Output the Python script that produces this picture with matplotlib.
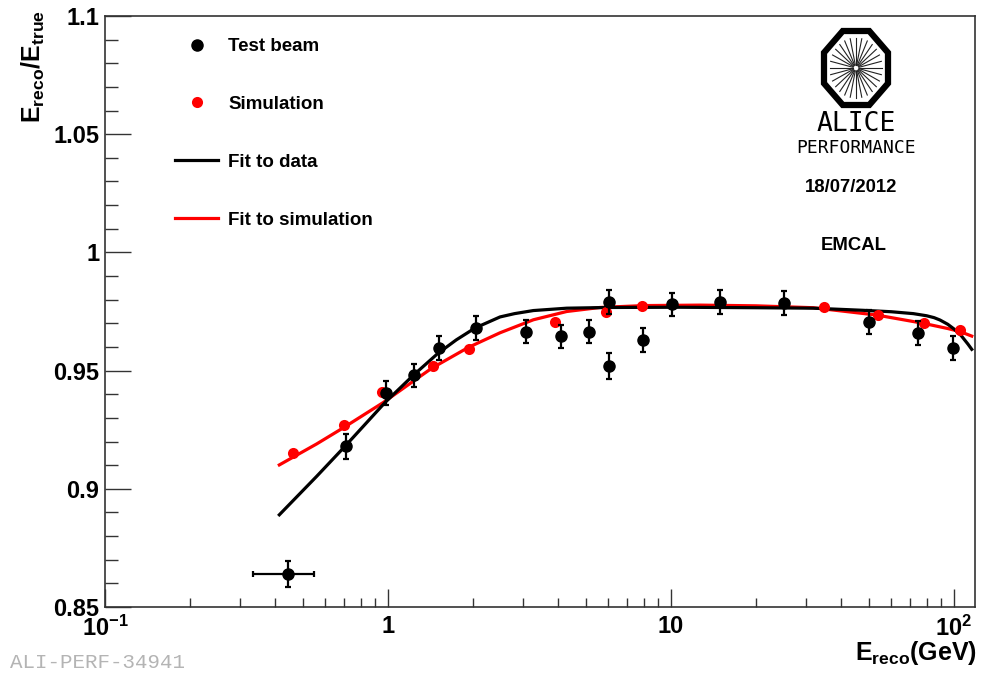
import numpy as np
import matplotlib
matplotlib.use('Agg')
import matplotlib.pyplot as plt
from matplotlib.lines import Line2D
from matplotlib.patches import Polygon
from matplotlib.ticker import FixedLocator, FixedFormatter, MultipleLocator, LogLocator, NullFormatter

# test beam points (E_reco in GeV, ratio, errors)
beam_e = [0.444, 0.711, 0.985, 1.236, 1.51, 2.05, 3.07, 4.09, 5.13, 6.04, 6.04,
          7.96, 10.07, 14.9, 25.1, 50.1, 74.6, 99.2]
beam_r = [0.8640, 0.9180, 0.9405, 0.9480, 0.9595, 0.9680, 0.9665, 0.9645, 0.9665,
          0.9520, 0.9790, 0.9630, 0.9780, 0.9790, 0.9785, 0.9705, 0.9660, 0.9595]
beam_err = [0.0055, 0.0053, 0.005, 0.005, 0.005, 0.005, 0.005, 0.005, 0.005,
            0.0055, 0.005, 0.005, 0.005, 0.005, 0.005, 0.005, 0.005, 0.005]
beam_xlo = [0.110] + [0.0] * 17
beam_xhi = [0.104] + [0.0] * 17

# simulation points
sim_e = [0.461, 0.699, 0.951, 1.44, 1.93, 3.89, 5.89, 7.9, 14.9, 25.1, 34.7, 53.9, 78.3, 105]
sim_r = [0.915, 0.927, 0.941, 0.952, 0.959, 0.9705, 0.975, 0.9775, 0.979, 0.9785,
         0.977, 0.9735, 0.970, 0.967]

# fit curves
datafit_e = [0.413, 0.560, 0.705, 0.976, 1.228, 1.498, 1.743, 2.029, 2.488, 2.8, 3.263, 4.28,
             6.0, 10.76, 20.0, 31.8, 47.8, 60.0, 71.8, 80.0, 85.0, 89.2, 95.0, 100.0, 106.0,
             112.0, 115.5]
datafit_r = [0.8890, 0.9053, 0.9180, 0.9365, 0.9480, 0.9572, 0.9630, 0.9680, 0.9727, 0.9741,
             0.9754, 0.9764, 0.9767, 0.9768, 0.9766, 0.9764, 0.9755, 0.9749, 0.9741, 0.9732,
             0.9724, 0.9714, 0.9696, 0.9676, 0.9648, 0.9612, 0.9590]
simfit_e = [0.413, 0.560, 0.695, 0.962, 1.228, 1.427, 1.922, 2.488, 3.263, 4.28, 5.61,
            8.0, 12.66, 20.0, 31.8, 53.3, 77.9, 95.0, 105.0, 115.5]
simfit_r = [0.9101, 0.9190, 0.9258, 0.9365, 0.9455, 0.9510, 0.9598, 0.9660, 0.9715, 0.9750,
            0.9767, 0.9775, 0.9777, 0.9774, 0.9766, 0.9735, 0.9700, 0.9678, 0.9665, 0.9646]

xtick_vals = [0.1, 1, 10, 100]
xtick_labels = [r'$10^{-1}$', '1', '10', r'$10^{2}$']
ytick_vals = [0.85, 0.9, 0.95, 1.0, 1.05, 1.1]
ytick_labels = ['0.85', '0.9', '0.95', '1', '1.05', '1.1']

legend_labels = ['Test beam', 'Simulation', 'Fit to data', 'Fit to simulation']

plt.rcParams['font.family'] = 'Liberation Sans'
plt.rcParams['font.weight'] = 'bold'
plt.rcParams['mathtext.fontset'] = 'custom'
plt.rcParams['mathtext.rm'] = 'Liberation Sans:bold'
plt.rcParams['mathtext.bf'] = 'Liberation Sans:bold'
plt.rcParams['mathtext.it'] = 'Liberation Sans:bold'
plt.rcParams['mathtext.default'] = 'bf'

W, H = 981, 673
fig = plt.figure(figsize=(W / 100, H / 100), dpi=100)
ax = fig.add_axes([105 / W, 1 - 607 / H, 870 / W, 591 / H])
ax.set_xscale('log')
ax.set_xlim(0.1, 118.6)
ax.set_ylim(0.85, 1.1)

ax.plot(simfit_e, simfit_r, color='#ff0000', lw=2.3, zorder=2)
ax.plot(datafit_e, datafit_r, color='black', lw=2.3, zorder=3)
ax.plot(sim_e, sim_r, 'o', color='#ff0000', ms=8, mec='none', zorder=4)
ax.errorbar(beam_e, beam_r, yerr=beam_err, xerr=[beam_xlo, beam_xhi], fmt='o',
            color='black', ms=8, elinewidth=1.6, capsize=2.5, capthick=1.6, zorder=5)

# axes, ROOT like
ax.xaxis.set_major_locator(FixedLocator(xtick_vals))
ax.xaxis.set_major_formatter(FixedFormatter(xtick_labels))
ax.xaxis.set_minor_locator(LogLocator(base=10, subs=np.arange(2, 10)))
ax.xaxis.set_minor_formatter(NullFormatter())
ax.yaxis.set_major_locator(FixedLocator(ytick_vals))
ax.yaxis.set_major_formatter(FixedFormatter(ytick_labels))
ax.yaxis.set_minor_locator(MultipleLocator(0.01))

ax.tick_params(axis='both', which='both', direction='in', top=False, right=False,
               labelsize=17, width=1.0, color='#333333')
ax.tick_params(axis='x', which='major', length=13, pad=6)
ax.tick_params(axis='x', which='minor', length=6.5)
ax.tick_params(axis='y', which='major', length=18.7, pad=4)
ax.tick_params(axis='y', which='minor', length=9.4)
for s in ax.spines.values():
    s.set_linewidth(1.2)
    s.set_color('#333333')

fig.text(33 / W, 1 - 10 / H, r'$E_{reco}/E_{true}$', rotation=90, ha='center', va='top', fontsize=18)
fig.text(977 / W, 1 - 667 / H, r'$E_{reco}$(GeV)', ha='right', va='bottom', fontsize=18)

handles = [Line2D([], [], ls='none', marker='o', color='black', ms=8),
           Line2D([], [], ls='none', marker='o', color='#ff0000', mec='none', ms=8),
           Line2D([], [], color='black', lw=2.3),
           Line2D([], [], color='#ff0000', lw=2.3)]
ax.legend(handles, legend_labels, loc='upper left',
          bbox_to_anchor=((175 - 105) / 870, (607 - 38) / 591), frameon=False, fontsize=13.5,
          handlelength=2.3, handletextpad=0.53, labelspacing=2.17, borderpad=0, borderaxespad=0)

# ALICE performance logo
cx, cy = 856, 68
ang = np.deg2rad(22.5 + 45 * np.arange(8))
k = 1 / np.cos(np.deg2rad(22.5))
octa = np.column_stack([(cx + 32 * k * np.cos(ang)) / W, 1 - (cy + 37 * k * np.sin(ang)) / H])
fig.patches.append(Polygon(octa, closed=True, fill=False, ec='black', lw=4.5,
                           transform=fig.transFigure, figure=fig))
for a in np.linspace(0, 2 * np.pi, 28, endpoint=False):
    fig.add_artist(Line2D([(cx + 3 * np.cos(a)) / W, (cx + 26 * np.cos(a)) / W],
                          [1 - (cy + 3 * np.sin(a)) / H, 1 - (cy + 30 * np.sin(a)) / H],
                          transform=fig.transFigure, color='#222222', lw=0.8))
fig.text(cx / W, 1 - 124 / H, 'ALICE', ha='center', va='center', fontsize=19,
         family='DejaVu Sans Mono', fontweight='normal')
fig.text(cx / W, 1 - 148 / H, 'PERFORMANCE', ha='center', va='center', fontsize=13,
         family='DejaVu Sans Mono', fontweight='normal')
fig.text(851 / W, 1 - 187 / H, '18/07/2012', ha='center', va='center', fontsize=13.3)
fig.text(854 / W, 1 - 245 / H, 'EMCAL', ha='center', va='center', fontsize=13.3)

fig.text(10 / W, 1 - 663 / H, 'ALI-PERF-34941', ha='left', va='center', fontsize=15,
         family='Liberation Mono', fontweight='normal', color='#b4b4b4')

fig.savefig('out.png', dpi=100)
